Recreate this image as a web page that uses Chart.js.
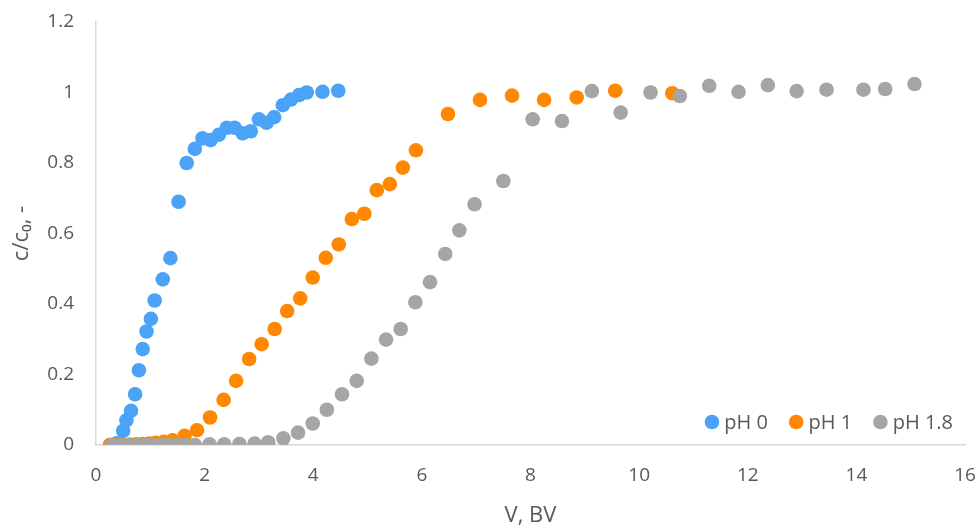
<!DOCTYPE html>
<html>
<head>
<meta charset="utf-8">
<script src="https://cdn.jsdelivr.net/npm/chart.js@4.4.1/dist/chart.umd.min.js"></script>
<style>
  html, body { margin: 0; padding: 0; background: #ffffff; }
  #wrap { width: 980px; height: 527px; position: relative; }
</style>
</head>
<body>
<div id="wrap"><canvas id="c" width="980" height="527"></canvas></div>
<script>
// ---- data ----
const seriesNames = ["pH 0", "pH 1", "pH 1.8"];
const seriesColors = ["#4BA3F8", "#FF8800", "#A5A5A5"];

const ph0X = [0.26,0.38,0.50,0.56,0.645,0.72,0.79,0.86,0.93,1.01,1.08,1.23,1.37,1.52,1.67,1.82,1.96,2.11,2.26,2.41,2.55,2.70,2.85,3.00,3.14,3.28,3.44,3.59,3.74,3.88,4.17,4.46];
const ph0Y = [0,0.005,0.04,0.07,0.097,0.144,0.212,0.272,0.322,0.358,0.41,0.47,0.53,0.69,0.80,0.84,0.87,0.865,0.88,0.90,0.90,0.884,0.89,0.924,0.914,0.93,0.964,0.98,0.993,1.0,1.002,1.005];

const ph1X = [0.26,0.38,0.50,0.62,0.74,0.86,0.98,1.10,1.25,1.41,1.63,1.86,2.10,2.35,2.58,2.82,3.05,3.29,3.52,3.76,3.99,4.23,4.47,4.71,4.94,5.17,5.41,5.65,5.89,6.48,7.07,7.66,8.25,8.85,9.56,10.61];
const ph1Y = [0,0,0,0.001,0.002,0.003,0.004,0.006,0.009,0.013,0.026,0.042,0.078,0.128,0.182,0.244,0.286,0.329,0.38,0.416,0.475,0.531,0.569,0.641,0.656,0.723,0.74,0.787,0.836,0.939,0.979,0.991,0.979,0.986,1.005,0.998];

const ph18X = [0.30,0.45,0.60,0.75,0.90,1.05,1.20,1.35,1.50,1.65,1.82,2.09,2.36,2.64,2.92,3.17,3.45,3.72,3.99,4.25,4.53,4.80,5.07,5.34,5.61,5.88,6.15,6.43,6.69,6.97,7.50,8.04,8.58,9.13,9.66,10.21,10.75,11.29,11.83,12.37,12.90,13.45,14.13,14.53,15.07];
const ph18Y = [0,0,0,0,0,0,0,0,0,0,0,0.002,0.002,0.003,0.004,0.008,0.019,0.035,0.061,0.10,0.144,0.182,0.245,0.299,0.329,0.405,0.462,0.542,0.609,0.683,0.749,0.924,0.919,1.004,0.943,1.0,0.99,1.019,1.002,1.021,1.004,1.008,1.008,1.01,1.024];

const xTicks = [0,2,4,6,8,10,12,14,16];
const yTicks = [0,0.2,0.4,0.6,0.8,1,1.2];
const xTitle = "V, BV";
const yTitle = "c/c\u2080, -";

// ---- build chart ----
function pts(xs, ys) { return xs.map((x, i) => ({ x: x, y: ys[i] })); }
const allX = [ph0X, ph1X, ph18X];
const allY = [ph0Y, ph1Y, ph18Y];

const FONT = "'Open Sans', 'Liberation Sans', sans-serif";
const TXT = "#595959";

const datasets = seriesNames.map((name, i) => ({
  label: name,
  data: pts(allX[i], allY[i]),
  backgroundColor: seriesColors[i],
  borderColor: seriesColors[i],
  borderWidth: 0,
  pointRadius: 7.3,
  pointHoverRadius: 7.3,
  showLine: false,
  order: 2 - i
}));

const insideLegend = {
  id: 'insideLegend',
  afterDatasetsDraw(chart) {
    const ctx = chart.ctx;
    const area = chart.chartArea;
    ctx.save();
    ctx.font = "20px " + FONT;
    ctx.textBaseline = 'middle';
    ctx.textAlign = 'left';
    const y = area.bottom - 23;
    const gap = 21, dotR = 7.3, dotGap = 5;
    const widths = seriesNames.map(n => ctx.measureText(n).width + dotR * 2 + dotGap);
    const total = widths.reduce((a, b) => a + b, 0) + gap * (seriesNames.length - 1);
    let x = area.right - 12 - total;
    seriesNames.forEach((n, i) => {
      ctx.fillStyle = seriesColors[i];
      ctx.beginPath();
      ctx.arc(x + dotR, y, dotR, 0, Math.PI * 2);
      ctx.fill();
      ctx.fillStyle = TXT;
      ctx.fillText(n, x + dotR * 2 + dotGap, y + 1);
      x += widths[i] + gap;
    });
    ctx.restore();
  }
};

new Chart(document.getElementById('c'), {
  type: 'scatter',
  data: { datasets: datasets },
  options: {
    responsive: false,
    animation: false,
    events: [],
    layout: { padding: { left: 0, right: 15, top: 22, bottom: 0 } },
    plugins: {
      legend: { display: false },
      tooltip: { enabled: false }
    },
    scales: {
      x: {
        type: 'linear',
        min: 0, max: 16,
        afterBuildTicks: s => { s.ticks = xTicks.map(v => ({ value: v })); },
        afterFit: s => { s.height = 82; },
        grid: { display: false, drawTicks: true, tickLength: 19, tickColor: 'rgba(0,0,0,0)' },
        border: { display: true, color: '#D9D9D9', width: 1.5 },
        ticks: { color: TXT, font: { family: FONT, size: 19 }, padding: 0, maxRotation: 0,
                 callback: v => String(v) },
        title: { display: true, text: xTitle, color: TXT, font: { family: FONT, size: 22 },
                 padding: { top: 0, bottom: -2 } }
      },
      y: {
        type: 'linear',
        min: 0, max: 1.2,
        afterBuildTicks: s => { s.ticks = yTicks.map(v => ({ value: v })); },
        afterFit: s => { s.width = 96; },
        grid: { display: false, drawTicks: true, tickLength: 22, tickColor: 'rgba(0,0,0,0)' },
        border: { display: true, color: '#D9D9D9', width: 1.5 },
        ticks: { color: TXT, font: { family: FONT, size: 19 }, padding: 0,
                 callback: v => String(Math.round(v * 10) / 10) },
        title: { display: true, text: yTitle, color: TXT, font: { family: FONT, size: 22 },
                 padding: { top: 9, bottom: 0 } }
      }
    }
  },
  plugins: [insideLegend]
});
</script>
</body>
</html>
